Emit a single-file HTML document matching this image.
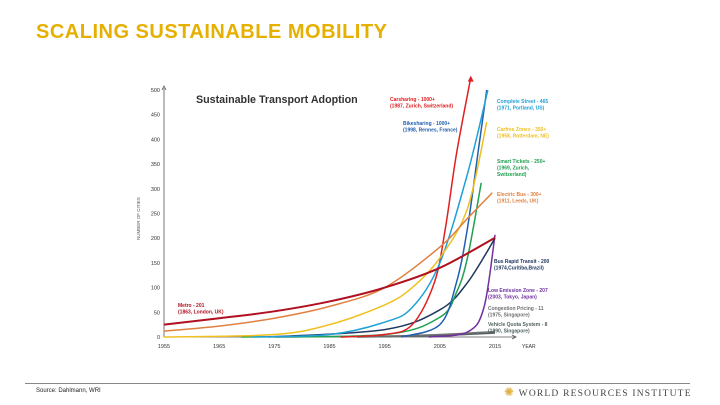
<!DOCTYPE html>
<html><head><meta charset="utf-8"><style>
body{margin:0;width:720px;height:405px;background:#fff;font-family:"Liberation Sans",sans-serif;overflow:hidden;position:relative}
.t{position:absolute;white-space:nowrap}
</style></head><body>
<div class="t" style="left:36px;top:21px;font-size:20px;letter-spacing:0.5px;font-weight:bold;color:#e5b000">SCALING SUSTAINABLE MOBILITY</div>
<svg id="c" width="720" height="405" style="position:absolute;left:0;top:0" font-family="Liberation Sans, sans-serif"></svg>
<div style="position:absolute;left:25px;top:383px;width:665px;height:1px;background:#888"></div>
<div class="t" style="left:36px;top:388px;font-size:6px;color:#222">Source: Dahlmann, WRI</div>
<div class="t" style="left:504px;top:385px;font-size:9.5px;letter-spacing:1.2px;font-family:'Liberation Serif',serif;color:#444"><span style="color:#e0b040;font-size:12px">✺</span> WORLD RESOURCES INSTITUTE</div>
<script>
const yTicks=[0,50,100,150,200,250,300,350,400,450,500];
const yTickLabels=["0","50","100","150","200","250","300","350","400","450","500"];
const xTicks=[1955,1965,1975,1985,1995,2005,2015];
const seriesNames=["metro","electric-bus","carfree-zones","complete-streets","carsharing","bikesharing","smart-tickets","bus-rapid-transit","low-emission-zone","congestion-pricing","vehicle-quota"];
const seriesColors=["#b01020","#e08040","#f0c020","#20a0d8","#e02020","#2060b0","#20a050","#203860","#7030a0","#707070","#506060"];
const metroYears=[1955,1965,1975,1985,1995,2005,2015], metroVals=[25,38,52,72,100,140,201];
const ebusYears=[1955,1965,1975,1985,1995,2005,2010,2014.5], ebusVals=[12,22,38,62,100,182,240,292];
const carfreeYears=[1955,1975,1985,1995,2000,2005,2010,2013.5], carfreeVals=[0,5,25,65,100,160,260,435];
const streetsYears=[1971,1985,1995,2000,2005,2010,2013.7], streetsVals=[0,5,30,60,150,330,500];
const carshareYears=[1987,1995,2000,2004,2006,2008,2010.6], carshareVals=[0,5,25,110,220,370,525];
const bikeYears=[1998,2005,2008,2010,2012,2013.5], bikeVals=[0,25,110,220,380,500];
const smartYears=[1969,1995,2005,2008,2010,2012.5], smartVals=[0,5,40,90,160,312];
const brtYears=[1974,1995,2005,2010,2015], brtVals=[0,15,55,110,200];
const lezYears=[2003,2010,2013,2015], lezVals=[0,10,60,207];
const congYears=[1975,2000,2015], congVals=[0,3,11];
const quotaYears=[1990,2005,2015], quotaVals=[0,3,8];
const allYears=[metroYears,ebusYears,carfreeYears,streetsYears,carshareYears,bikeYears,smartYears,brtYears,lezYears,congYears,quotaYears];
const allVals=[metroVals,ebusVals,carfreeVals,streetsVals,carshareVals,bikeVals,smartVals,brtVals,lezVals,congVals,quotaVals];
const labels=[
 {i:0,x:178,y:307,l:["Metro - 201","(1863, London, UK)"]},
 {i:1,x:497,y:196,l:["Electric Bus - 300+","(1911, Leeds, UK)"]},
 {i:2,x:497,y:131,l:["Carfree Zones - 350+","(1958, Rotterdam, NE)"]},
 {i:3,x:497,y:103,l:["Complete Street - 465","(1971, Portland, US)"]},
 {i:4,x:390,y:101,l:["Carsharing - 1000+","(1987, Zurich, Switzerland)"]},
 {i:5,x:403,y:125,l:["Bikesharing - 1000+","(1998, Rennes, France)"]},
 {i:6,x:497,y:163,l:["Smart Tickets - 250+","(1969, Zurich,","Switzerland)"]},
 {i:7,x:494,y:263,l:["Bus Rapid Transit - 200","(1974,Curitiba,Brazil)"]},
 {i:8,x:488,y:292,l:["Low Emission Zone - 207","(2003, Tokyo, Japan)"]},
 {i:9,x:488,y:310,l:["Congestion Pricing - 11","(1975, Singapore)"]},
 {i:10,x:488,y:326,l:["Vehicle Quota System - 8","(1990, Singapore)"]}];
const svg=document.getElementById('c');const NS="http://www.w3.org/2000/svg";
const X=y=>164+(y-1955)*5.517, Y=v=>337-v*0.494;
function mk(t,a,p){const e=document.createElementNS(NS,t);for(const k in a)e.setAttribute(k,a[k]);(p||svg).appendChild(e);return e;}
for(let k=0;k<yTicks.length;k++){const t=mk('text',{x:160,y:Y(yTicks[k])+2,'font-size':5.5,'text-anchor':'end',fill:'#333'});t.textContent=yTickLabels[k];

}
for(const yr of xTicks){const t=mk('text',{x:X(yr),y:348,'font-size':5.5,'text-anchor':'middle',fill:'#333'});t.textContent=yr;

}
let ax=mk('path',{d:`M164,${Y(0)}V88M162,90L164,86L166,90`,stroke:'#555','stroke-width':0.8,fill:'none'});


ax=mk('path',{d:`M164,${Y(0)}H515M512,335L516,337L512,339`,stroke:'#555','stroke-width':0.8,fill:'none'});


let tt=mk('text',{x:522,y:348,'font-size':5,fill:'#333'});tt.textContent='YEAR';


tt=mk('text',{x:0,y:0,'font-size':4.5,fill:'#555',transform:'translate(140,240) rotate(-90)'});tt.textContent='NUMBER OF CITIES';


tt=mk('text',{x:196,y:103,'font-size':10.7,'font-weight':'bold',fill:'#333'});tt.textContent='Sustainable Transport Adoption';


function curve(ps){let d=`M${ps[0][0]},${ps[0][1]}`;for(let i=0;i<ps.length-1;i++){const p0=ps[Math.max(i-1,0)],p1=ps[i],p2=ps[i+1],p3=ps[Math.min(i+2,ps.length-1)];
const c1=[p1[0]+(p2[0]-p0[0])/6,p1[1]+(p2[1]-p0[1])/6],c2=[p2[0]-(p3[0]-p1[0])/6,p2[1]-(p3[1]-p1[1])/6];d+=`C${c1[0]},${c1[1]} ${c2[0]},${c2[1]} ${p2[0]},${p2[1]}`;}return d;}
for(let s=allYears.length-1;s>=0;s--){const ps=allYears[s].map((yr,j)=>[X(yr),Y(allVals[s][j])]);
const p=mk('path',{d:curve(ps),stroke:seriesColors[s],'stroke-width':s==0?2:1.5,fill:'none'});

}
const last=[X(carshareYears[carshareYears.length-1]),Y(carshareVals[carshareVals.length-1])];
const ar=mk('path',{d:`M${last[0]-3},${last[1]+4}L${last[0]},${last[1]-2}L${last[0]+3},${last[1]+4}Z`,fill:seriesColors[4]});


for(const L of labels){const g=mk('text',{x:L.x,y:L.y,'font-size':5,'font-weight':'bold',fill:seriesColors[L.i]});


L.l.forEach((s,k)=>{const t=mk('tspan',{x:L.x,dy:k?6.5:0},g);t.textContent=s;});}
</script>
</body></html>
